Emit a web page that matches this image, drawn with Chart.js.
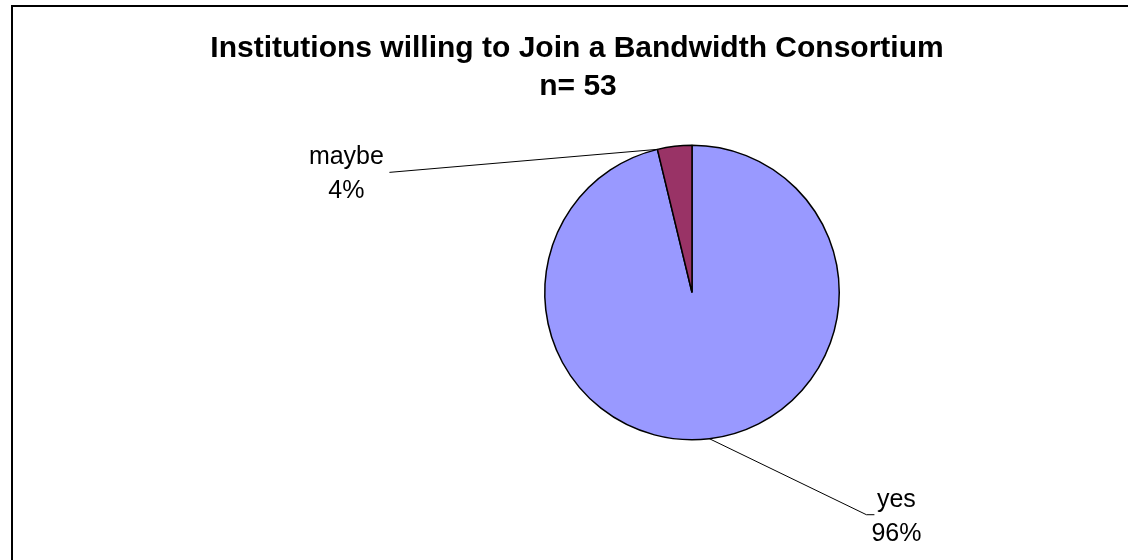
<!DOCTYPE html>
<html>
<head>
<meta charset="utf-8">
<script src="https://cdn.jsdelivr.net/npm/chart.js@4"></script>
<style>
  html, body { margin: 0; padding: 0; background: #fff; overflow: hidden; }
  #wrap { width: 1128px; height: 560px; position: relative; }
</style>
</head>
<body>
<div id="wrap"><canvas id="pieChart" width="1128" height="560"></canvas></div>
<script>
// chart data
const categories = ["yes", "maybe"];
const counts = [51, 2];
const sliceColors = ["#9999FF", "#993366"];
const titleLines = ["Institutions willing to Join a Bandwidth Consortium", "n= 53"];

// where the leader lines go (relative to the point on the slice edge)
const labelLayout = [
  { anchor: 0.5, dx: 157, dy: 76, tail: 8, textDx: 30 },
  { anchor: 0.0, dx: -268, dy: 23, tail: 0, textDx: -43 },
];

const total = counts.reduce((a, b) => a + b, 0);

// frame + title
const framePlugin = {
  id: "frame",
  beforeDraw(chart) {
    const c = chart.ctx;
    c.save();
    c.fillStyle = "#fff";
    c.fillRect(0, 0, chart.width, chart.height);
    c.strokeStyle = "#000";
    c.lineWidth = 2;
    c.strokeRect(12, 6, 1300, 700);
    c.fillStyle = "#000";
    c.font = "bold 30px 'Liberation Sans', Arial, sans-serif";
    c.textAlign = "center";
    c.textBaseline = "alphabetic";
    c.fillText(titleLines[0], 577, 57);
    c.fillText(titleLines[1], 578, 95);
    c.restore();
  },
};

// labels with leader lines
const labelPlugin = {
  id: "pieLabels",
  afterDatasetsDraw(chart) {
    const c = chart.ctx;
    const arcs = chart.getDatasetMeta(0).data;
    c.save();
    arcs.forEach((arc, i) => {
      const lay = labelLayout[i];
      const p = arc.getProps(["x", "y", "startAngle", "endAngle", "outerRadius"], true);
      const ang = p.startAngle + (p.endAngle - p.startAngle) * lay.anchor;
      const ax = p.x + Math.cos(ang) * p.outerRadius;
      const ay = p.y + Math.sin(ang) * p.outerRadius;
      const ex = ax + lay.dx;
      const ey = ay + lay.dy;
      const dir = lay.dx < 0 ? -1 : 1;

      c.strokeStyle = "#000";
      c.lineWidth = 1;
      c.beginPath();
      c.moveTo(ax, ay);
      c.lineTo(ex, ey);
      c.lineTo(ex + dir * lay.tail, ey);
      c.stroke();

      const pct = Math.round((counts[i] / total) * 100) + "%";
      const tx = ex + lay.textDx;
      c.fillStyle = "#000";
      c.font = "25px 'Liberation Sans', Arial, sans-serif";
      c.textAlign = "center";
      c.textBaseline = "alphabetic";
      c.fillText(categories[i], tx, ey - 8);
      c.fillText(pct, tx, ey + 26);
    });
    c.restore();
  },
};

const ctx = document.getElementById("pieChart").getContext("2d");
const pieChart = new Chart(ctx, {
  type: "pie",
  data: {
    labels: categories,
    datasets: [
      {
        data: counts,
        backgroundColor: sliceColors,
        borderColor: "#000",
        borderWidth: 1.5,
        borderAlign: "center",
      },
    ],
  },
  options: {
    responsive: false,
    animation: false,
    events: [],
    layout: {
      padding: { left: 544, right: 288, top: 144, bottom: 119 },
    },
    plugins: {
      legend: { display: false },
      title: { display: false },
      tooltip: { enabled: false },
    },
  },
  plugins: [framePlugin, labelPlugin],
});
</script>
</body>
</html>
